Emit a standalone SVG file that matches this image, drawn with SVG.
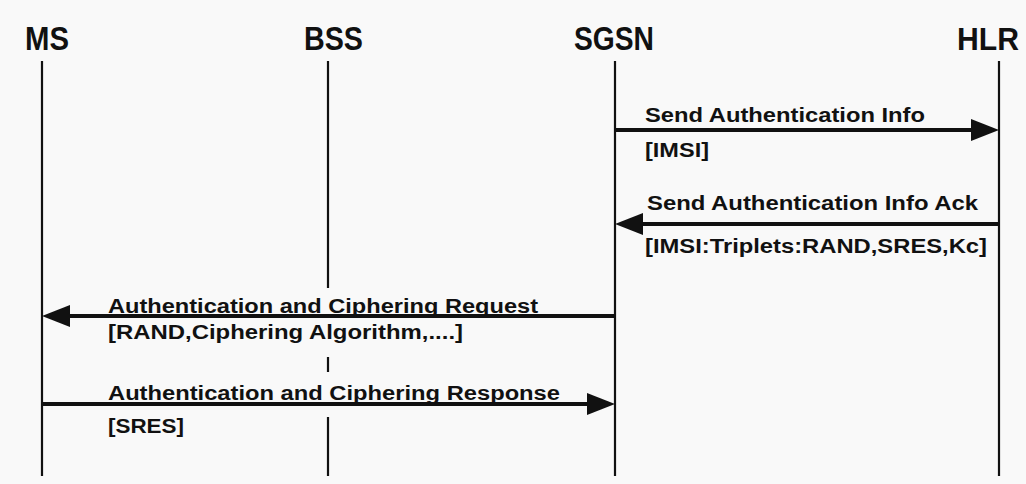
<svg xmlns="http://www.w3.org/2000/svg" width="1026" height="484" viewBox="0 0 1026 484">
<style>
.bg{fill:#f9f9f9}
.head{font-family:"Liberation Sans",Arial,sans-serif;font-weight:bold;font-size:34px;fill:#111}
.msg{font-family:"Liberation Sans",Arial,sans-serif;font-weight:bold;font-size:20px;fill:#111}
.life{stroke:#111;stroke-width:2.2;fill:none}
.arrow{stroke:#111;stroke-width:4;fill:none;marker-end:url(#head)}
</style>
<defs>
<marker id="head" viewBox="0 0 28 22" refX="14" refY="11" markerWidth="28" markerHeight="22" markerUnits="userSpaceOnUse" orient="auto">
<path d="M0,0 L28,11 L0,22 z" fill="#111"/>
</marker>
</defs>
<rect class="bg" x="0" y="0" width="1026" height="484"/>
<g id="MS">
<text class="head" x="25" y="50" textLength="44" lengthAdjust="spacingAndGlyphs">MS</text>
<line class="life" x1="42" y1="61" x2="42" y2="476"/>
</g>
<g id="BSS">
<text class="head" x="304" y="50" textLength="59" lengthAdjust="spacingAndGlyphs">BSS</text>
<line class="life" x1="328" y1="61" x2="328" y2="288"/>
<line class="life" x1="328" y1="357" x2="328" y2="372"/>
<line class="life" x1="328" y1="417" x2="328" y2="476"/>
</g>
<g id="SGSN">
<text class="head" x="574" y="50" textLength="80" lengthAdjust="spacingAndGlyphs">SGSN</text>
<line class="life" x1="615" y1="61" x2="615" y2="476"/>
</g>
<g id="HLR">
<text class="head" x="957" y="50" style="font-size:32px" textLength="62" lengthAdjust="spacingAndGlyphs">HLR</text>
<line class="life" x1="999" y1="61" x2="999" y2="476"/>
</g>
<g id="connectors">
<path class="arrow" d="M615,130 L985,130"/>
<path class="arrow" d="M999,224 L629,224"/>
<path class="arrow" d="M615,316 L56,316"/>
<path class="arrow" d="M42,404 L601,404"/>
</g>
<g id="labels">
<text class="msg" x="645" y="122" textLength="280" lengthAdjust="spacingAndGlyphs">Send Authentication Info</text>
<text class="msg" x="645" y="157" textLength="64" lengthAdjust="spacingAndGlyphs">[IMSI]</text>
<text class="msg" x="647" y="210" textLength="331" lengthAdjust="spacingAndGlyphs">Send Authentication Info Ack</text>
<text class="msg" x="645" y="253" textLength="342" lengthAdjust="spacingAndGlyphs">[IMSI:Triplets:RAND,SRES,Kc]</text>
<text class="msg" x="108" y="313" textLength="430" lengthAdjust="spacingAndGlyphs">Authentication and Ciphering Request</text>
<text class="msg" x="108" y="339" textLength="355" lengthAdjust="spacingAndGlyphs">[RAND,Ciphering Algorithm,....]</text>
<text class="msg" x="108" y="400" textLength="452" lengthAdjust="spacingAndGlyphs">Authentication and Ciphering Response</text>
<text class="msg" x="108" y="433" textLength="76" lengthAdjust="spacingAndGlyphs">[SRES]</text>
</g>
</svg>
